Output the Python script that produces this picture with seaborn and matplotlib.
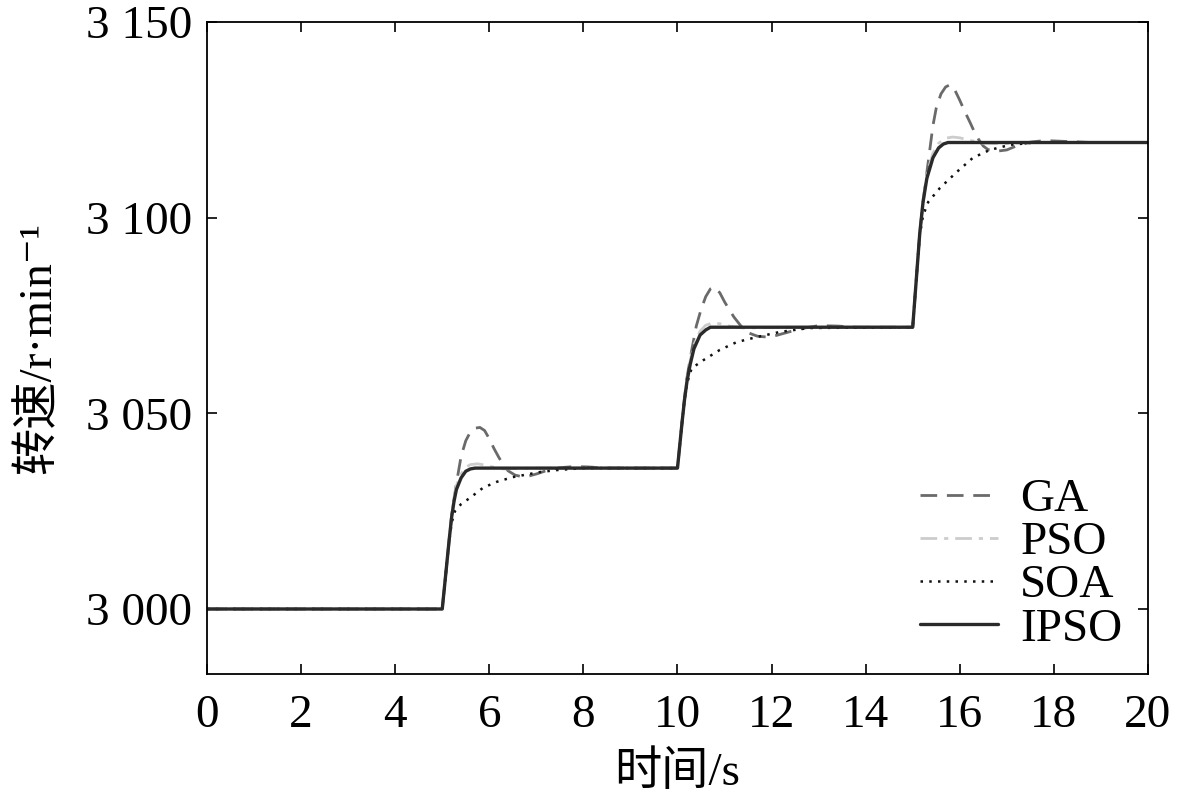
import numpy as np
import pandas as pd
import matplotlib
matplotlib.use("Agg")
import matplotlib.pyplot as plt
import seaborn as sns

# ---- data ----
t_ipso = [0, 5.0, 5.05, 5.1, 5.15, 5.2, 5.25, 5.3, 5.4, 5.5, 5.6, 5.7,
          10.0, 10.05, 10.1, 10.15, 10.2, 10.27, 10.35, 10.48, 10.6, 10.7,
          15.0, 15.05, 15.1, 15.15, 15.22, 15.3, 15.43, 15.55, 15.65, 15.75, 20]
v_ipso = [3000, 3000, 3006, 3012, 3018, 3023.5, 3027.5, 3030.5, 3033.5, 3035.2, 3035.8, 3036,
          3036, 3042, 3048, 3053.5, 3058, 3062.5, 3066.5, 3070, 3071.3, 3072,
          3072, 3080, 3088, 3096, 3104, 3110, 3115.3, 3117.8, 3118.8, 3119.2, 3119.2]

t_ga = [0, 5.0, 5.05, 5.1, 5.15, 5.2, 5.3, 5.4, 5.5, 5.6, 5.7, 5.8, 5.9, 6.0, 6.1, 6.2, 6.3,
        6.4, 6.55, 6.7, 6.85, 7.0, 7.2, 7.5, 7.8, 8.1, 8.5,
        10.0, 10.05, 10.1, 10.15, 10.2, 10.3, 10.4, 10.5, 10.6, 10.7, 10.78, 10.9, 11.0,
        11.1, 11.2, 11.35, 11.5, 11.7, 11.9, 12.1, 12.4, 12.7, 13.0, 13.4, 13.8,
        15.0, 15.05, 15.1, 15.15, 15.22, 15.3, 15.43, 15.5, 15.6, 15.7, 15.8, 15.9, 16.0,
        16.1, 16.22, 16.3, 16.4, 16.5, 16.6, 16.8, 17.0, 17.2, 17.5, 17.8, 18.2, 18.8, 20]
v_ga = [3000, 3000, 3006, 3012, 3018, 3024, 3032, 3039, 3043, 3045.3, 3046.2, 3046.4, 3045.6,
        3043.5, 3041, 3038.8, 3036.8, 3035.3, 3034.2, 3033.8, 3034, 3034.5, 3035.3, 3036.1,
        3036.4, 3036.3, 3036,
        3036, 3042, 3048, 3054, 3059, 3066, 3072.3, 3076.5, 3079.8, 3081.8, 3082.3, 3080.8,
        3078.5, 3076.5, 3074.6, 3072.3, 3070.6, 3069.7, 3069.5, 3069.9, 3070.9, 3071.8,
        3072.4, 3072.3, 3072,
        3072, 3080, 3088, 3096, 3104, 3111.5, 3123.5, 3128, 3131.6, 3133.4, 3134, 3132.5,
        3130, 3127.3, 3124.3, 3122.2, 3120, 3118.3, 3117.4, 3117, 3117.3, 3118.3, 3119.3,
        3119.7, 3119.5, 3119.2, 3119.2]

t_pso = [0, 5.0, 5.05, 5.1, 5.15, 5.2, 5.25, 5.3, 5.4, 5.5, 5.6, 5.75, 5.9, 6.1, 6.3, 6.6, 7.0,
         10.0, 10.05, 10.1, 10.15, 10.2, 10.27, 10.35, 10.48, 10.6, 10.75, 10.9, 11.1, 11.4,
         11.8, 12.2,
         15.0, 15.05, 15.1, 15.15, 15.22, 15.3, 15.43, 15.55, 15.7, 15.85, 16.0, 16.2, 16.5,
         16.9, 17.4, 20]
v_pso = [3000, 3000, 3006, 3012, 3018, 3024, 3028.5, 3031.5, 3034.5, 3036.2, 3036.9, 3037.1,
         3036.8, 3036.2, 3035.8, 3035.9, 3036,
         3036, 3042, 3048, 3053.5, 3058.5, 3063.5, 3067.5, 3071, 3072.5, 3073.1, 3072.9,
         3072.3, 3071.8, 3071.9, 3072,
         3072, 3080, 3088, 3096, 3104.5, 3111, 3116.5, 3119, 3120.3, 3120.6, 3120.4, 3119.8,
         3119.0, 3118.9, 3119.2, 3119.2]

t_soa = [0, 5.0, 5.05, 5.1, 5.15, 5.2, 5.27, 5.4, 5.59, 5.87, 6.16, 6.5, 7.08, 7.44, 8.0,
         10.0, 10.05, 10.1, 10.15, 10.2, 10.3, 10.54, 10.9, 11.26, 11.69, 12.18, 12.8,
         15.0, 15.05, 15.1, 15.15, 15.22, 15.33, 15.58, 15.94, 16.28, 16.64, 17.07, 17.6, 20]
v_soa = [3000, 3000, 3006, 3012, 3017.5, 3022, 3025, 3026.8, 3028.4, 3031, 3032.5, 3033.7,
         3035, 3035.5, 3036,
         3036, 3042, 3048, 3053.5, 3057.5, 3061.5, 3063.5, 3066.2, 3068.2, 3069.5, 3070.8,
         3071.8,
         3072, 3080, 3088, 3095.5, 3100.5, 3104, 3107.6, 3111.7, 3115.3, 3117.3, 3118.6,
         3119.2, 3119.2]

series_names = ["GA", "PSO", "SOA", "IPSO"]
x_ticks = [0, 2, 4, 6, 8, 10, 12, 14, 16, 18, 20]
y_ticks = [3000, 3050, 3100, 3150]
y_ticklabels = ["3 000", "3 050", "3 100", "3 150"]
x_label = "时间/s"
y_label = "转速/r·min⁻¹"

# ---- plotting ----
sns.set_theme(style="white")
plt.rcParams["font.family"] = ["Liberation Serif", "Noto Sans CJK SC", "DejaVu Serif"]
plt.rcParams["axes.unicode_minus"] = False
plt.rcParams["text.color"] = "black"
plt.rcParams["axes.labelcolor"] = "black"

FS = 34

fig = plt.figure(figsize=(11.81, 7.99), dpi=100)
ax = fig.add_axes([0.1753, 0.1565, 0.7967, 0.816])

styles = {
    "GA":   dict(color="#6a6a6a", linestyle=(0, (6, 3.5)), linewidth=2.0),
    "PSO":  dict(color="#cccccc", linestyle=(0, (6, 2.5, 1.5, 2.5)), linewidth=2.0),
    "SOA":  dict(color="#111111", linestyle=(0, (1, 2.5)), linewidth=1.8),
    "IPSO": dict(color="#2a2a2a", linestyle="-", linewidth=2.4),
}
data = {"GA": (t_ga, v_ga), "PSO": (t_pso, v_pso), "SOA": (t_soa, v_soa), "IPSO": (t_ipso, v_ipso)}

for name in series_names:
    t, v = data[name]
    df = pd.DataFrame({"t": t, "v": v})
    sns.lineplot(data=df, x="t", y="v", ax=ax, label=name, estimator=None,
                 sort=True, **styles[name])

ax.set_xlim(0, 20)
ax.set_ylim(2983.4, 3150)
ax.set_xticks(x_ticks)
ax.set_xticklabels([str(x) for x in x_ticks])
ax.set_yticks(y_ticks)
ax.set_yticklabels(y_ticklabels)
ax.tick_params(direction="in", length=7, width=1.2, labelsize=FS, colors="black",
               top=True, right=True, bottom=True, left=True)
ax.tick_params(axis="x", pad=15)
ax.tick_params(axis="y", pad=11)
for s in ax.spines.values():
    s.set_color("black")
    s.set_linewidth(1.3)

ax.set_xlabel(x_label, fontsize=FS, labelpad=10, color="black")
ax.set_ylabel(y_label, fontsize=FS, labelpad=18, color="black")

leg = ax.legend(loc="lower right", frameon=False, fontsize=FS, handlelength=1.65,
                handletextpad=0.47, labelspacing=0.0, borderaxespad=0.0,
                bbox_to_anchor=(0.993, 0.007))
for txt in leg.get_texts():
    txt.set_color("black")

fig.savefig("out.png", dpi=100)
